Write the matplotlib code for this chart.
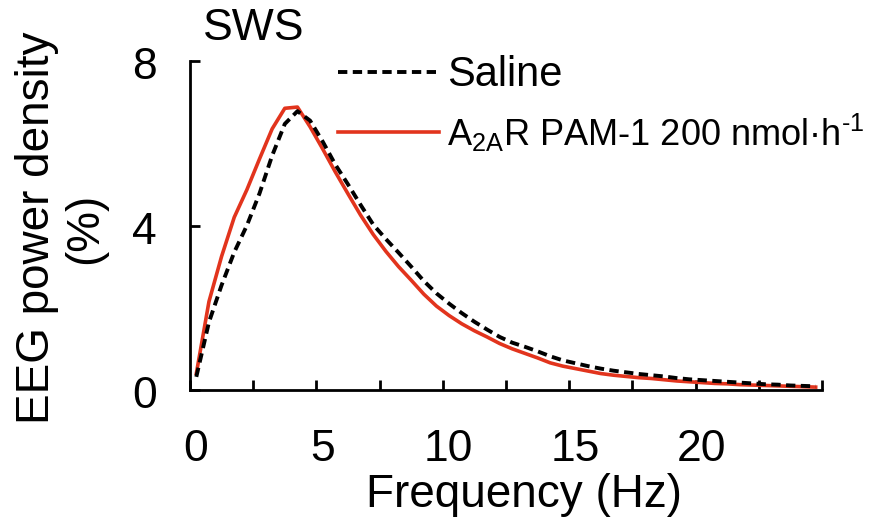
import numpy as np
import matplotlib
matplotlib.use("Agg")
import matplotlib.pyplot as plt
from matplotlib.transforms import ScaledTranslation

plt.rcParams['font.family'] = ['Liberation Sans', 'DejaVu Sans']
plt.rcParams['mathtext.fontset'] = 'custom'
plt.rcParams['mathtext.rm'] = 'Liberation Sans'
plt.rcParams['mathtext.it'] = 'Liberation Sans:italic'
plt.rcParams['mathtext.bf'] = 'Liberation Sans:bold'

# ---- data ----
freq = np.arange(0.25, 25.0, 0.5)
saline = [0.32, 1.65, 2.55, 3.35, 4.00, 4.78, 5.70, 6.47, 6.78, 6.55,
          6.04, 5.48, 5.00, 4.50, 4.02, 3.67, 3.34, 3.00, 2.65, 2.35,
          2.10, 1.87, 1.66, 1.47, 1.29, 1.15, 1.05, 0.94, 0.82, 0.72,
          0.65, 0.58, 0.52, 0.47, 0.43, 0.39, 0.36, 0.33, 0.29, 0.26,
          0.24, 0.22, 0.20, 0.18, 0.16, 0.14, 0.13, 0.11, 0.10, 0.09]
pam = [0.40, 2.15, 3.25, 4.20, 4.87, 5.62, 6.35, 6.85, 6.88, 6.40,
       5.86, 5.30, 4.77, 4.25, 3.78, 3.37, 3.00, 2.67, 2.33, 2.04,
       1.81, 1.61, 1.44, 1.29, 1.13, 1.00, 0.89, 0.78, 0.66, 0.58,
       0.52, 0.46, 0.40, 0.36, 0.33, 0.30, 0.28, 0.25, 0.22, 0.20,
       0.18, 0.16, 0.15, 0.13, 0.12, 0.11, 0.10, 0.09, 0.08, 0.07]
labels = ['Saline', 'A$_{\\mathregular{2A}}$R PAM-1 200 nmol·h$^{\\mathregular{\u2010 1}}$']
xticks = np.arange(0, 25.01, 2.5)
xticklabels = ['0', '', '5', '', '10', '', '15', '', '20', '', '']
yticks = [0, 4, 8]

W, H = 876, 523
fig = plt.figure(figsize=(W / 100, H / 100), dpi=100)
ax = fig.add_axes([190 / W, 133 / H, 632 / W, 329 / H])

red = '#E2341D'
ax.plot(freq, saline, color='black', lw=2.8, ls=(0, (2.4, 1.4)), label=labels[0], zorder=3)
ax.plot(freq, pam, color=red, lw=2.6, label=labels[1], zorder=2)

ax.set_xlim(0, 25)
ax.set_ylim(0, 8)
for s in ['top', 'right']:
    ax.spines[s].set_visible(False)
for s in ['left', 'bottom']:
    ax.spines[s].set_linewidth(2.0)

ax.set_xticks(xticks)
ax.set_xticklabels(xticklabels)
ax.set_yticks(yticks)
ax.set_yticklabels([str(v) for v in yticks])
ax.tick_params(axis='both', direction='in', length=7.5, width=2.0, labelsize=32)
ax.tick_params(axis='x', pad=28)
ax.tick_params(axis='y', pad=24)
off = ScaledTranslation(6 / 100, 0, fig.dpi_scale_trans)
for lbl in ax.get_xticklabels():
    lbl.set_transform(lbl.get_transform() + off)
offy = ScaledTranslation(0, -2 / 100, fig.dpi_scale_trans)
for lbl in ax.get_yticklabels():
    lbl.set_transform(lbl.get_transform() + offy)

fig.text(61 / W, 1 - 228 / H, 'EEG power density\n(%)', rotation=90,
         ha='center', va='center', multialignment='center', fontsize=33,
         linespacing=1.1)
fig.text(524 / W, 1 - 495 / H, 'Frequency (Hz)', ha='center',
         va='center', fontsize=33)
fig.text(203 / W, 1 - 28 / H, 'SWS', ha='left', va='center', fontsize=32)

leg = ax.legend(loc='upper left', bbox_to_anchor=(338 / W, 1 - 55 / H),
                bbox_transform=fig.transFigure, frameon=False, fontsize=28,
                handlelength=2.6, handletextpad=0.2, labelspacing=0.42,
                borderpad=0, borderaxespad=0)
texts = leg.get_texts()
texts[0].set_fontsize(30)
texts[1].set_fontsize(26)

fig.savefig('out.png', dpi=100)
